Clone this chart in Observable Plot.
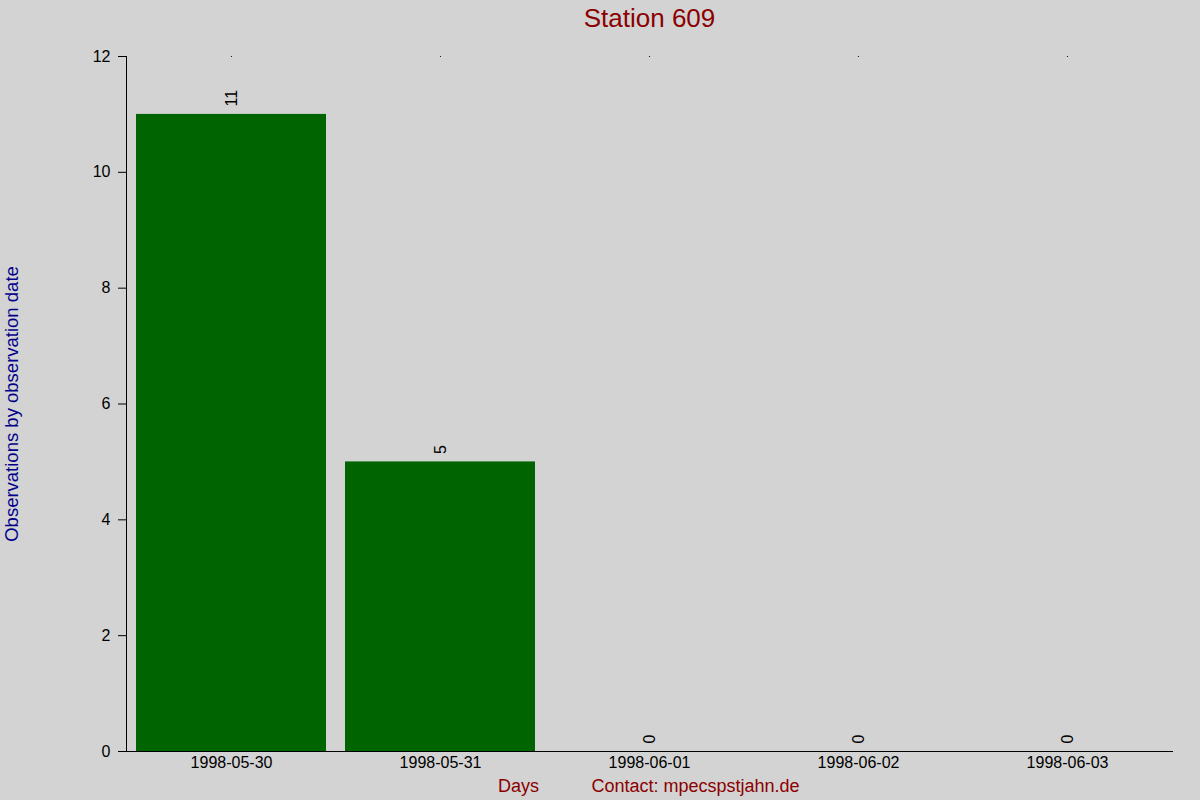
<!DOCTYPE html>
<html>
<head>
<meta charset="utf-8">
<script src="https://cdn.jsdelivr.net/npm/d3@7"></script>
<script src="https://cdn.jsdelivr.net/npm/@observablehq/plot@0.6"></script>
<style>
  html, body { margin: 0; padding: 0; background: #d3d3d3; }
  #chart svg { display: block; }
</style>
</head>
<body>
<div id="chart"></div>
<script>
const days = ["1998-05-30", "1998-05-31", "1998-06-01", "1998-06-02", "1998-06-03"];
const counts = [11, 5, 0, 0, 0];
const yTicks = [0, 2, 4, 6, 8, 10, 12];
const title = "Station 609";
const xLabel = "Days";
const contact = "Contact: mpecspstjahn.de";
const yLabel = "Observations by observation date";

const data = days.map((d, i) => ({day: d, count: counts[i]}));

const chart = Plot.plot({
  width: 1200,
  height: 800,
  marginLeft: 126,
  marginRight: 28,
  marginTop: 56,
  marginBottom: 49,
  style: {background: "#d3d3d3", fontFamily: "'Liberation Sans', Arial, sans-serif", fontSize: "16px", color: "black"},
  x: {type: "band", domain: days, paddingInner: 0.09, paddingOuter: 0.045, label: null},
  y: {domain: [0, 12], label: null},
  marks: [
    Plot.barY(data, {x: "day", y: "count", fill: "#006400"}),
    Plot.frame({anchor: "left", stroke: "black"}),
    Plot.frame({anchor: "bottom", stroke: "black"}),
    Plot.axisY({ticks: yTicks, tickSize: 8, tickPadding: 8, fontSize: 16, label: null}),
    Plot.axisX({tickSize: 0, tickPadding: 5, fontSize: 16, label: null}),
    Plot.dot(days, {x: d => d, y: () => 12, r: 0.6, fill: "black", stroke: null}),
    Plot.text(data, {x: "day", y: "count", text: d => String(d.count), rotate: -90, textAnchor: "start", lineAnchor: "middle", dy: -8, fontSize: 16, fill: "black"}),
    Plot.text([title], {frameAnchor: "top", text: d => d, dy: -38, lineAnchor: "middle", fontSize: 26, fill: "#8b0000"}),
    Plot.text([xLabel], {frameAnchor: "bottom", text: d => d, dx: -131, dy: 35, lineAnchor: "middle", fontSize: 18, fill: "#8b0000"}),
    Plot.text([contact], {frameAnchor: "bottom", text: d => d, dx: 46, dy: 35, lineAnchor: "middle", fontSize: 18, fill: "#8b0000"}),
    Plot.text([yLabel], {frameAnchor: "left", text: d => d, rotate: -90, dx: -114, lineAnchor: "middle", textAnchor: "middle", fontSize: 18.5, fill: "#00008b"})
  ]
});
document.getElementById("chart").appendChild(chart);
</script>
</body>
</html>
